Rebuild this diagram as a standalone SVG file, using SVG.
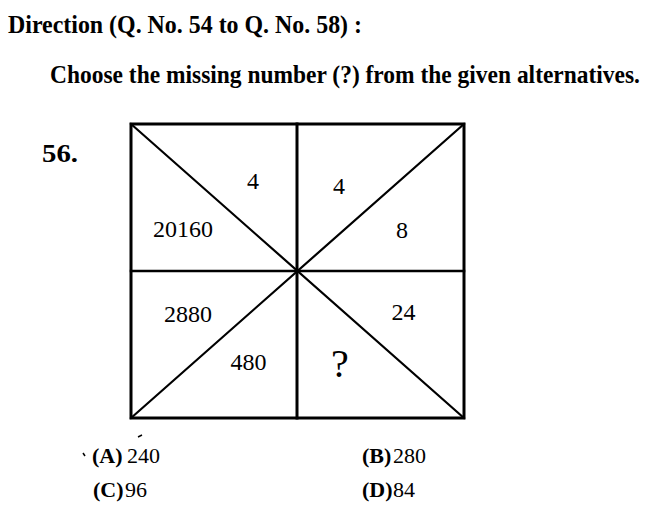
<svg xmlns="http://www.w3.org/2000/svg" width="656" height="508" viewBox="0 0 656 508">
<style>
.h{font-family:"Liberation Serif",serif;font-weight:bold;font-size:25px;fill:#000}
.n{font-family:"Liberation Serif",serif;font-size:24px;fill:#000}
.o{font-family:"Liberation Serif",serif;font-size:22px;fill:#000}
.b{font-weight:bold}
.ln{stroke:#000;fill:none;stroke-linecap:square}
</style>
<rect width="656" height="508" fill="#fff"/>
<g id="heading">
<text class="h" x="8" y="33" textLength="354" lengthAdjust="spacingAndGlyphs">Direction (Q. No. 54  to Q. No. 58) :</text>
<text class="h" transform="translate(50,83) scale(0.9365,1)" x="0" y="0" textLength="630" lengthAdjust="spacingAndGlyphs">Choose the missing number (?) from the given alternatives.</text>
<text class="h" x="42" y="162" textLength="36" lengthAdjust="spacingAndGlyphs">56.</text>
</g>
<g id="connectors">
<rect class="ln" x="131" y="124" width="333" height="294" stroke-width="3"/>
<line class="ln" x1="131" y1="271" x2="464" y2="271" stroke-width="2.5"/>
<line class="ln" x1="297" y1="124" x2="297" y2="418" stroke-width="3"/>
<line class="ln" x1="131" y1="124" x2="464" y2="418" stroke-width="2.2"/>
<line class="ln" x1="464" y1="124" x2="131" y2="418" stroke-width="2.2"/>
</g>
<g id="cells" class="n" text-anchor="middle">
<text x="253" y="189">4</text>
<text x="339" y="194">4</text>
<text x="183" y="237">20160</text>
<text x="402" y="238">8</text>
<text x="188" y="322">2880</text>
<text x="403.5" y="320">24</text>
<text x="248.5" y="370">480</text>
<text x="340" y="377" font-size="40">?</text>
</g>
<g id="options" class="o">
<g id="optA"><text class="b" x="92" y="463">(A)</text><text x="127" y="463">240</text></g>
<g id="optB"><text class="b" x="362" y="463">(B)</text><text x="393" y="463">280</text></g>
<g id="optC"><text class="b" x="93" y="497">(C)</text><text x="125" y="497">96</text></g>
<g id="optD"><text class="b" x="362" y="497">(D)</text><text x="393" y="497">84</text></g>
</g>
<g id="marks" stroke="#000" stroke-width="1.5">
<line x1="83" y1="453" x2="85" y2="456"/>
<line x1="138" y1="437" x2="142" y2="435"/>
</g>
</svg>
